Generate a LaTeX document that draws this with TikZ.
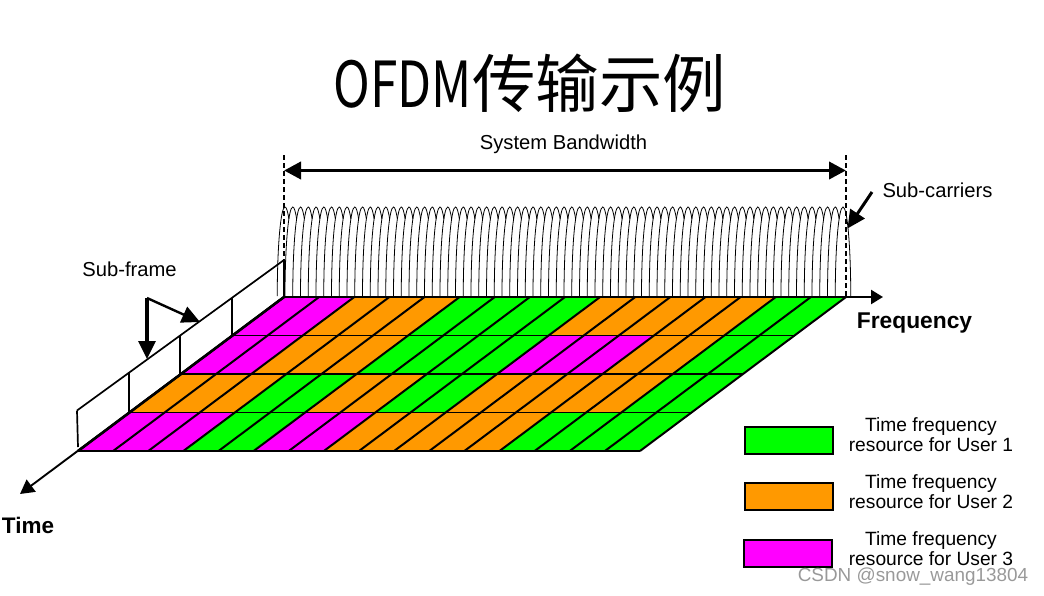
\documentclass[tikz,border=0pt]{standalone}
\usepackage{fontspec}
\setmainfont{Liberation Sans}
\newfontfamily\cjk{Noto Sans CJK SC}
\newfontfamily\cjklat[FakeStretch=0.78]{Noto Sans CJK SC}
\definecolor{ugreen}{RGB}{0,255,0}
\definecolor{uorange}{RGB}{255,153,0}
\definecolor{umag}{RGB}{255,0,255}
\usetikzlibrary{arrows.meta}
\tikzset{
  lbl/.style={inner sep=0pt,font=\fontsize{20.2}{20}\selectfont,text=black},
  legtxt/.style={inner sep=0pt,align=center,font=\fontsize{19.2}{20}\selectfont},
  legbox/.style={draw=black,line width=2pt,minimum width=88pt,minimum height=27pt,inner sep=0pt},
  bigarrow/.style={-{Triangle[length=18pt,width=17pt]}},
  axis/.style={line width=1.9pt,-{Triangle[length=14pt,width=15pt]}},
  frame/.style={line width=1.7pt},
  carrier/.style={line width=0.8pt},
  griddiag/.style={line width=2pt},
  gridhoriz/.style={line width=1.8pt},
}
\begin{document}
\begin{tikzpicture}[x=1pt,y=-1pt]
\useasboundingbox (0,0) rectangle (1044,595);
\def\cw{35.125}
\def\rowh{38.5}
\def\rowdx{51.5}
\newcommand{\gridrow}[2]{%
  \pgfmathsetmacro{\ytop}{297+#1*\rowh}
  \pgfmathsetmacro{\ybot}{\ytop+\rowh}
  \pgfmathsetmacro{\xtop}{284-#1*\rowdx}
  \foreach \c/\k [remember=\kk as \prev (initially 0), evaluate=\k as \kk using {\prev+\k}] in {#2} {
    \pgfmathsetmacro{\xa}{\xtop+\prev*\cw}
    \pgfmathsetmacro{\xb}{\xtop+\kk*\cw}
    \fill[\c] (\xa,\ytop) -- (\xb,\ytop) -- (\xb-\rowdx,\ybot) -- (\xa-\rowdx,\ybot) -- cycle;
  }
}
\gridrow{0}{umag/2,uorange/3,ugreen/4,uorange/5,ugreen/2}
\gridrow{1}{umag/2,uorange/3,ugreen/4,umag/3,uorange/2,ugreen/2}
\gridrow{2}{uorange/3,ugreen/2,uorange/2,ugreen/2,uorange/5,ugreen/2}
\gridrow{3}{umag/3,ugreen/2,umag/2,uorange/5,ugreen/4}
% grid lines
\foreach \i in {0,...,16} {
  \draw[griddiag] (284+\i*\cw,297) -- (78+\i*\cw,451);
}
\foreach \r in {1,...,3} {
  \pgfmathsetmacro{\yy}{297+\r*\rowh}
  \pgfmathsetmacro{\xx}{284-\r*\rowdx}
  \draw[gridhoriz] (\xx,\yy) -- (\xx+16*\cw,\yy);
}
\draw[line width=2.4pt] (78,451) -- (640,451);
\draw[line width=2.6pt] (284,297) -- (78,451);
% sub-carriers: only the front flank of each lobe shows
\foreach \i in {0,...,71} {
  \draw[carrier] ({285+\i*7.75-7.75},296) arc[start angle=180,end angle=60,x radius=7.75,y radius=-89];
}
\draw[carrier] ({285+72*7.75-7.75},296) arc[start angle=180,end angle=0,x radius=7.75,y radius=-89];
% sub-frame boxes
\coordinate (fa) at (77,410.5);
\coordinate (fb) at (284,260);
\coordinate (sf0) at (78,447);
\draw[frame] (fa) -- (fb);
\draw[frame] (fa) -- (sf0);
\draw[frame] (129,373) -- (129,412);
\draw[frame] (180,336) -- (180,374);
\draw[frame] (232,298) -- (232,335);
\draw[line width=2.2pt] (284,260) -- (284,297);
% axes
\coordinate (origin) at (284,297);
\coordinate (timeend) at (20,494);
\coordinate (freqend) at (883,297);
\draw[axis] (origin) -- (timeend);
\draw[line width=2.4pt,-{Triangle[length=12pt,width=14pt]}] (origin) -- (freqend);
% sub-frame arrows
\coordinate (apex) at (147,298);
\coordinate (sfdown) at (147,359);
\coordinate (sfright) at (200,322);
\draw[bigarrow,line width=3.2pt] (apex) -- (sfdown);
\draw[bigarrow,line width=2.4pt] (apex) -- (sfright);
% bandwidth
\coordinate (bwl) at (284,170.5);
\coordinate (bwr) at (846,170.5);
\draw[line width=1.6pt,dash pattern=on 5pt off 3pt] (284,155) -- (284,260);
\draw[line width=1.6pt,dash pattern=on 5pt off 3pt] (846,155) -- (846,297);
\draw[line width=3.8pt,{Triangle[length=17pt,width=17pt]}-{Triangle[length=17pt,width=17pt]}] (bwl) -- (bwr);
% sub-carriers pointer
\coordinate (scs) at (872,192);
\coordinate (sce) at (847.5,228.5);
\draw[bigarrow,line width=3pt] (scs) -- (sce);
% texts
\node[inner sep=0pt,anchor=center] (title) at (530,83.5) {\fontsize{63.5}{64}\selectfont\cjklat OFDM\cjk 传输示例};
\node[lbl] (bwt) at (563.5,144) {System Bandwidth};
\node[lbl] (sct) at (937.5,190) {Sub-carriers};
\node[lbl] (sft) at (129.5,269) {Sub-frame};
\node[lbl,font=\fontsize{22.8}{23}\selectfont\bfseries] (freq) at (914.5,323) {Frequency};
\node[lbl,font=\fontsize{22.5}{23}\selectfont\bfseries] (time) at (28,525) {Time};
% legend
\node[legbox,fill=ugreen] (l1) at (788.5,440) {};
\node[legbox,fill=uorange] (l2) at (788.5,496) {};
\node[legbox,fill=umag] (l3) at (787.5,553) {};
\node[legtxt] (t1) at (931,435) {Time frequency\\resource for User 1};
\node[legtxt] (t2) at (931,492) {Time frequency\\resource for User 2};
\node[legtxt] (t3) at (931,549) {Time frequency\\resource for User 3};
\node[inner sep=0pt,text=black!40,font=\fontsize{18.9}{19}\selectfont] (wm) at (913,576.5) {CSDN @snow\_wang13804};
\end{tikzpicture}
\end{document}
